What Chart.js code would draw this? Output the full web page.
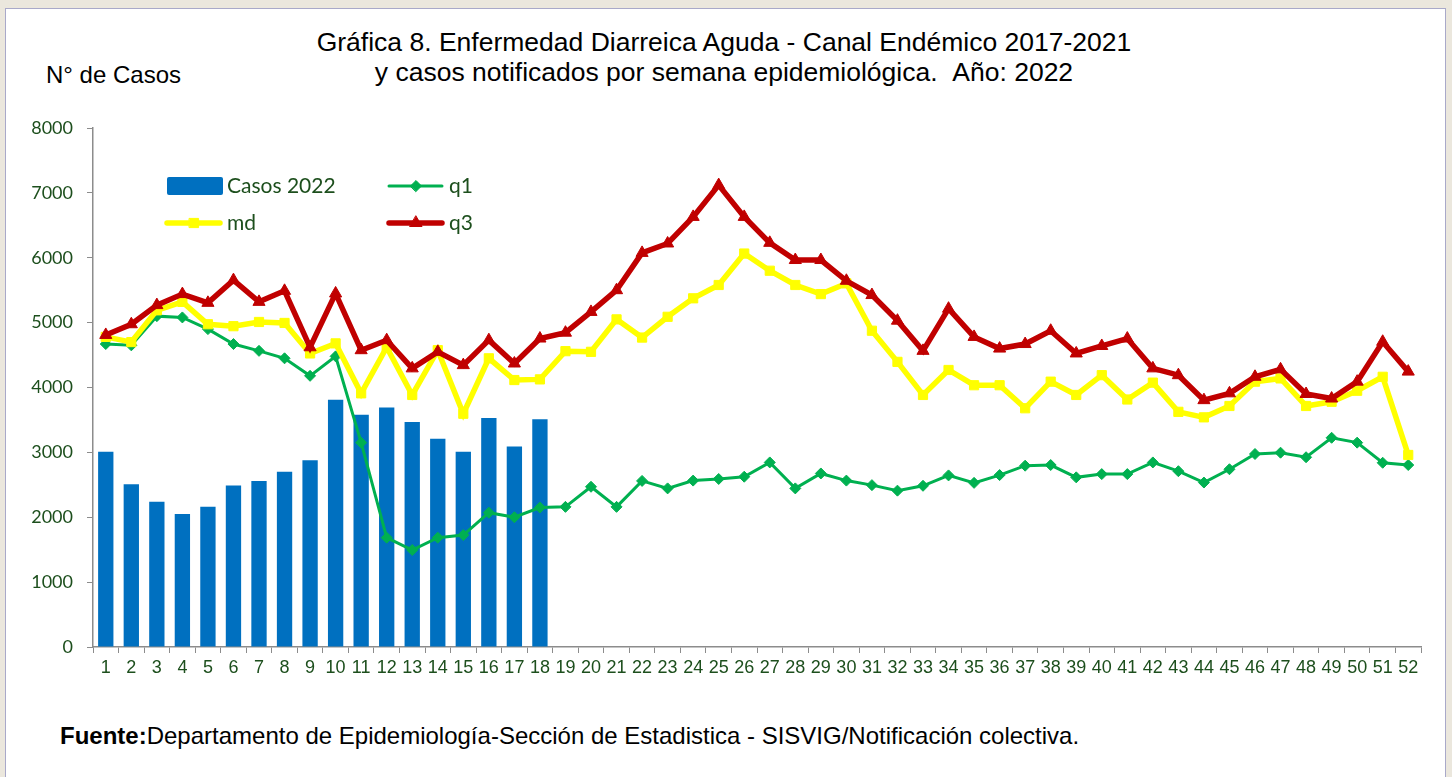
<!DOCTYPE html>
<html>
<head>
<meta charset="utf-8">
<script src="https://cdn.jsdelivr.net/npm/chart.js@4.4.1/dist/chart.umd.min.js"></script>
<style>
  html, body { margin: 0; padding: 0; }
  body { width: 1452px; height: 777px; background: #ebe7dd; position: relative; overflow: hidden; font-family: "Liberation Sans", Arial, sans-serif; }
  #panel { position: absolute; left: 5px; top: 8px; width: 1439px; height: 790px; background: #ffffff; border: 1px solid #a9a9c9; }
  #cv { position: absolute; left: 0; top: 0; }
  .title { position: absolute; left: 0; width: 1448px; text-align: center; font-size: 26.5px; line-height: 30px; color: #000; white-space: nowrap; }
  #ylab { position: absolute; left: 46px; top: 61px; font-size: 24px; line-height: 28px; color: #000; white-space: nowrap; }
  #foot { position: absolute; left: 60px; top: 722px; font-size: 24px; line-height: 28px; color: #000; white-space: nowrap; }
</style>
</head>
<body>
<div id="panel"></div>
<div class="title" style="top:27px">Gráfica 8. Enfermedad Diarreica Aguda - Canal Endémico 2017-2021</div>
<div class="title" style="top:57px">y casos notificados por semana epidemiológica.&nbsp;&nbsp;Año: 2022</div>
<div id="ylab">N° de Casos</div>
<div id="foot"><b>Fuente:</b>Departamento de Epidemiología-Sección de Estadistica - SISVIG/Notificación colectiva.</div>
<canvas id="cv" width="1452" height="777"></canvas>
<script>
const weeks = Array.from({length: 52}, (_, i) => String(i + 1));
const yTicks = [0, 1000, 2000, 3000, 4000, 5000, 6000, 7000, 8000];

const casos2022 = [3010,2510,2240,2050,2160,2490,2560,2700,2880,3810,3580,3690,3470,3210,3010,3530,3090,3510];

const q1 = [4670,4650,5100,5080,4900,4670,4565,4450,4180,4480,
            3150,1685,1495,1685,1725,2070,2000,2150,2160,2470,
            2160,2560,2445,2565,2590,2625,2845,2445,2675,2565,
            2495,2410,2485,2645,2530,2650,2795,2805,2615,2665,
            2665,2845,2710,2535,2740,2975,2995,2925,3225,3150,
            2840,2805];

const md = [4780,4700,5190,5320,4975,4945,5010,4995,4525,4680,
            3910,4620,3885,4575,3595,4450,4115,4125,4560,4550,
            5050,4770,5090,5375,5580,6065,5800,5580,5440,5605,
            4875,4395,3885,4270,4035,4035,3680,4090,3885,4190,
            3815,4075,3625,3540,3715,4090,4140,3715,3780,3950,
            4165,2960];

const q3 = [4810,4975,5270,5440,5305,5655,5320,5490,4620,5450,
            4575,4730,4295,4550,4345,4730,4370,4755,4845,5165,
            5500,6075,6220,6630,7120,6630,6230,5965,5965,5645,
            5425,5030,4565,5215,4780,4600,4670,4875,4525,4640,
            4755,4295,4190,3805,3910,4165,4280,3900,3830,4090,
            4705,4245];

const labelGreen = '#1d4f1d';

const legendPlugin = {
  id: 'customLegend',
  afterDatasetsDraw(chart) {
    const ctx = chart.ctx;
    const ds = chart.data.datasets;
    const items = [
      {i: 0, x: 167, y: 186},
      {i: 1, x: 389, y: 186},
      {i: 2, x: 167, y: 223},
      {i: 3, x: 389, y: 223}
    ];
    ctx.save();
    ctx.font = '21px Lato, "Open Sans", sans-serif';
    ctx.textBaseline = 'middle';
    items.forEach(it => {
      const d = ds[it.i];
      if (d.type === 'bar') {
        ctx.fillStyle = d.backgroundColor;
        ctx.beginPath();
        ctx.roundRect(it.x, it.y - 9, 56, 18, 2);
        ctx.fill();
      } else {
        ctx.strokeStyle = d.borderColor;
        ctx.lineWidth = d.borderWidth;
        ctx.lineCap = 'round';
        ctx.beginPath();
        ctx.moveTo(it.x, it.y);
        ctx.lineTo(it.x + 53, it.y);
        ctx.stroke();
        ctx.fillStyle = d.pointBackgroundColor;
        ctx.strokeStyle = d.pointBorderColor;
        ctx.lineWidth = 1;
        Chart.helpers.drawPoint(ctx, {pointStyle: d.pointStyle, radius: d.pointRadius, borderWidth: 1, rotation: 0}, it.x + 27, it.y);
      }
      ctx.fillStyle = labelGreen;
      ctx.fillText(d.label, it.x + 60, it.y);
    });
    ctx.restore();
  }
};

new Chart(document.getElementById('cv'), {
  type: 'bar',
  data: {
    labels: weeks,
    datasets: [
      {
        type: 'bar', label: 'Casos 2022', data: casos2022,
        backgroundColor: '#0070c0', borderWidth: 0,
        barPercentage: 0.6, categoryPercentage: 1.0, order: 4
      },
      {
        type: 'line', label: 'q1', data: q1,
        borderColor: '#00b050', backgroundColor: '#00b050', borderWidth: 3,
        pointStyle: 'rectRot', pointRadius: 5.5, pointBackgroundColor: '#00b050', pointBorderColor: '#00b050', pointBorderWidth: 1,
        tension: 0, order: 3
      },
      {
        type: 'line', label: 'md', data: md,
        borderColor: '#ffff00', backgroundColor: '#ffff00', borderWidth: 5.5,
        pointStyle: 'rect', pointRadius: 6.5, pointBackgroundColor: '#ffff00', pointBorderColor: '#ffff00', pointBorderWidth: 1,
        tension: 0, order: 2
      },
      {
        type: 'line', label: 'q3', data: q3,
        borderColor: '#c00000', backgroundColor: '#c00000', borderWidth: 5.5,
        pointStyle: 'triangle', pointRadius: 7, pointBackgroundColor: '#c00000', pointBorderColor: '#c00000', pointBorderWidth: 1,
        tension: 0, order: 1
      }
    ]
  },
  options: {
    responsive: false,
    animation: false,
    layout: { padding: { left: 0, right: 31, top: 128, bottom: 90 } },
    plugins: { legend: { display: false }, tooltip: { enabled: false }, title: { display: false } },
    scales: {
      x: {
        offset: true,
        grid: { display: true, drawOnChartArea: false, drawTicks: true, tickLength: 6, color: '#8c8c8c', offset: true },
        border: { display: true, color: '#8c8c8c', width: 1.5 },
        ticks: { autoSkip: false, maxRotation: 0, minRotation: 0, padding: 4, color: labelGreen,
                 font: { family: '"Liberation Sans", Arial, sans-serif', size: 18 } },
        afterFit(scale) { scale.height = 40; }
      },
      y: {
        min: 0, max: 8000,
        afterBuildTicks(scale) { scale.ticks = yTicks.map(v => ({ value: v })); },
        grid: { display: true, drawOnChartArea: false, drawTicks: true, tickLength: 6, color: '#8c8c8c' },
        border: { display: true, color: '#8c8c8c', width: 1.5 },
        ticks: { padding: 14, color: labelGreen, font: { family: 'Lato, "Open Sans", sans-serif', size: 18 },
                 callback: v => String(v) },
        afterFit(scale) { scale.width = 93; }
      }
    }
  },
  plugins: [legendPlugin]
});
</script>
</body>
</html>
